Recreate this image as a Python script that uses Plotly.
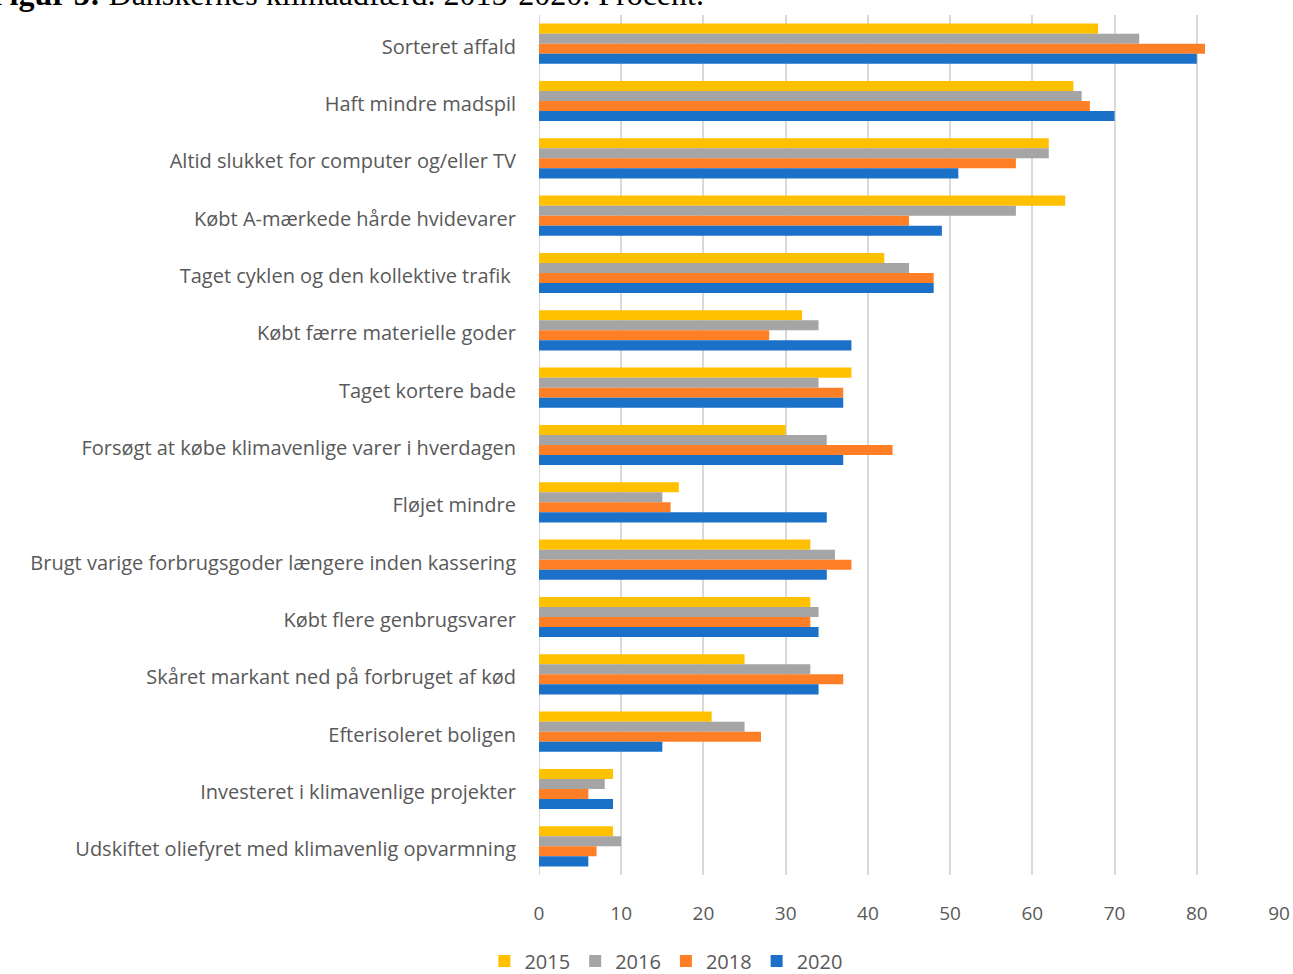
import plotly.graph_objects as go

categories = [
    "Sorteret affald",
    "Haft mindre madspil",
    "Altid slukket for computer og/eller TV",
    "Købt A-mærkede hårde hvidevarer",
    "Taget cyklen og den kollektive trafik ",
    "Købt færre materielle goder",
    "Taget kortere bade",
    "Forsøgt at købe klimavenlige varer i hverdagen",
    "Fløjet mindre",
    "Brugt varige forbrugsgoder længere inden kassering",
    "Købt flere genbrugsvarer",
    "Skåret markant ned på forbruget af kød",
    "Efterisoleret boligen",
    "Investeret i klimavenlige projekter",
    "Udskiftet oliefyret med klimavenlig opvarmning",
]
v2015 = [68, 65, 62, 64, 42, 32, 38, 30, 17, 33, 33, 25, 21, 9, 9]
v2016 = [73, 66, 62, 58, 45, 34, 34, 35, 15, 36, 34, 33, 25, 8, 10]
v2018 = [81, 67, 58, 45, 48, 28, 37, 43, 16, 38, 33, 37, 27, 6, 7]
v2020 = [80, 70, 51, 49, 48, 38, 37, 37, 35, 35, 34, 34, 15, 9, 6]
series_names = ["2015", "2016", "2018", "2020"]
colors = ["#FFC000", "#A5A5A5", "#FF7F27", "#1B70C8"]
x_ticks = [0, 10, 20, 30, 40, 50, 60, 70, 80, 90]

W, H = 1293, 974
ml, mr, mt, mb = 539, 14, 15, 99

fig = go.Figure()
for name, vals, c in zip(series_names, [v2015, v2016, v2018, v2020], colors):
    fig.add_trace(go.Bar(
        y=categories, x=vals, name=name, orientation="h",
        marker=dict(color=c, line=dict(width=0)),
    ))

font_main = "Open Sans, sans-serif"
fig.update_layout(
    width=W, height=H,
    margin=dict(l=ml, r=mr, t=mt, b=mb, pad=0, autoexpand=False),
    paper_bgcolor="white", plot_bgcolor="white",
    barmode="group", bargap=0.3, bargroupgap=0,
    showlegend=True,
    legend=dict(
        orientation="h", xref="container", yref="container",
        x=0.515, xanchor="center", y=(H - 961) / H, yanchor="middle",
        font=dict(family=font_main, size=20, color="#595959"),
        itemwidth=30, traceorder="normal",
    ),
    xaxis=dict(
        range=[0, 90], tickvals=x_ticks, showgrid=True, automargin=False,
        gridcolor="#D9D9D9", gridwidth=2, zeroline=False,
        showline=False, ticks="", ticklabelstandoff=25,
        tickfont=dict(family=font_main, size=19, color="#595959"),
        fixedrange=True,
    ),
    yaxis=dict(
        autorange="reversed", showgrid=False, zeroline=False, automargin=False,
        showline=False, ticks="", ticklabelstandoff=22, ticklabelshift=-3,
        tickfont=dict(family=font_main, size=20, color="#595959"),
    ),
    annotations=[dict(
        text="<b>Figur 3:</b> Danskernes klimaadfærd. 2015-2020. Procent.",
        xref="paper", yref="paper",
        x=(-12 - ml) / (W - ml - mr), y=1 + (mt + 6) / (H - mt - mb),
        xanchor="left", yanchor="middle", showarrow=False,
        font=dict(family="Liberation Serif, Times New Roman, serif", size=32, color="black"),
    )],
)
fig.add_shape(type="line", xref="x", yref="paper", x0=0, x1=0, y0=0, y1=1,
              line=dict(color="#D9D9D9", width=2), layer="below")

fig.write_html("out.html", config={"displayModeBar": False},
               post_script="document.body.style.margin='0px';")
